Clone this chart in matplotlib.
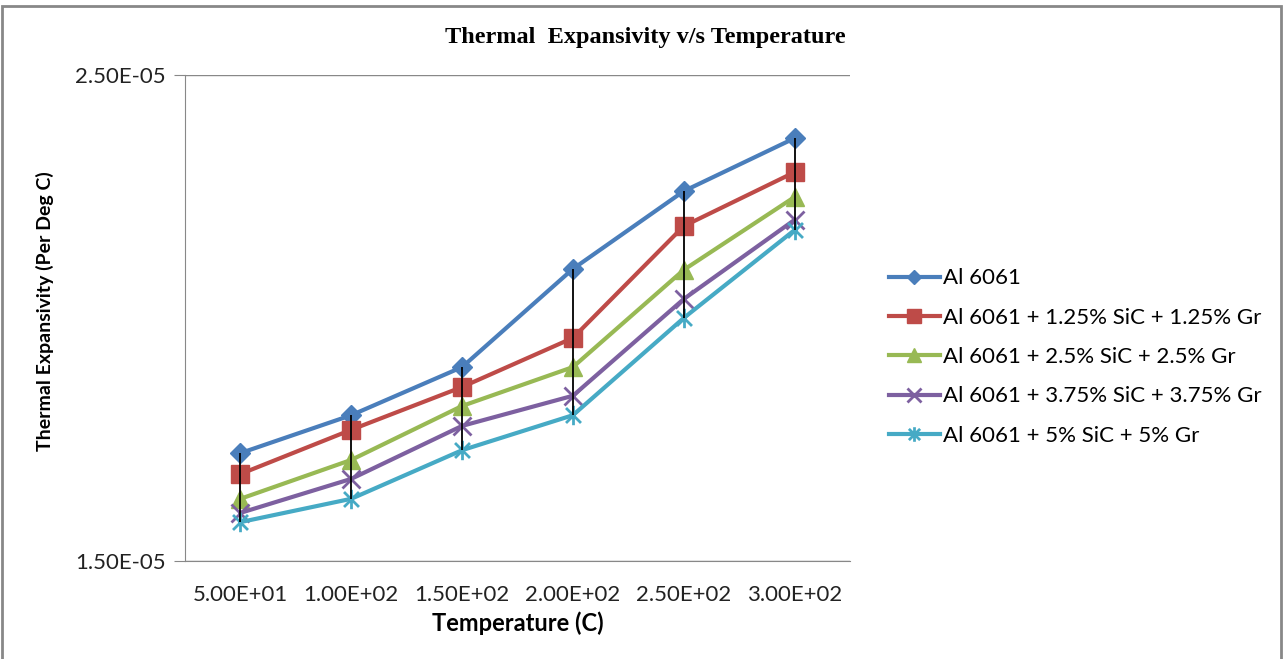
import numpy as np
import matplotlib
matplotlib.use("Agg")
import matplotlib.pyplot as plt
from matplotlib.path import Path
from matplotlib.patches import Rectangle

# data
temps = ["5.00E+01", "1.00E+02", "1.50E+02", "2.00E+02", "2.50E+02", "3.00E+02"]
al6061 = [1.722e-5, 1.800e-5, 1.899e-5, 2.101e-5, 2.261e-5, 2.370e-5]
mix_125 = [1.679e-5, 1.770e-5, 1.858e-5, 1.959e-5, 2.189e-5, 2.300e-5]
mix_250 = [1.628e-5, 1.708e-5, 1.819e-5, 1.899e-5, 2.099e-5, 2.249e-5]
mix_375 = [1.599e-5, 1.669e-5, 1.778e-5, 1.840e-5, 2.039e-5, 2.202e-5]
mix_500 = [1.580e-5, 1.628e-5, 1.728e-5, 1.800e-5, 2.000e-5, 2.181e-5]
labels = ["Al 6061",
          "Al 6061 + 1.25% SiC + 1.25% Gr",
          "Al 6061 + 2.5% SiC + 2.5% Gr",
          "Al 6061 + 3.75% SiC + 3.75% Gr",
          "Al 6061 + 5% SiC + 5% Gr"]
y_ticks = [1.5e-5, 2.5e-5]

# excel-ish star marker (x with a vertical bar)
star = Path([(-1, -1), (1, 1), (-1, 1), (1, -1), (0, -1.3), (0, 1.3)],
            [Path.MOVETO, Path.LINETO, Path.MOVETO, Path.LINETO, Path.MOVETO, Path.LINETO])

colors = ["#4A7EBB", "#BE4B48", "#98B954", "#7D60A0", "#46AAC5"]
markers = ["D", "s", "^", "x", star]
msizes = [10, 13, 13, 13, 14]

plt.rcParams["font.family"] = ["Lato", "DejaVu Sans"]

fig = plt.figure(figsize=(12.84, 6.59), dpi=100)
ax = fig.add_axes([185/1284, 1 - 561/659, 665/1284, 486/659])

series = [al6061, mix_125, mix_250, mix_375, mix_500]
x = np.arange(len(temps))

# high-low lines
arr = np.array(series)
ax.vlines(x, arr.min(axis=0), arr.max(axis=0), color="black", lw=1.3, zorder=3)

for vals, lab, c, m, ms in zip(series, labels, colors, markers, msizes):
    ax.plot(x, vals, color=c, lw=3, marker=m, ms=ms, mew=2 if m in ("x",) or m is star else 1,
            mec=c, mfc=c, label=lab, zorder=2)

ax.set_xlim(-0.5, len(temps) - 0.5)
ax.set_ylim(1.5e-5, 2.5e-5)
ax.set_xticks(x)
ax.set_xticklabels(temps, fontsize=16, color="#222222")
ax.set_yticks(y_ticks)
ax.set_yticklabels(["1.50E-05", "2.50E-05"], fontsize=16, color="#222222")
ax.tick_params(axis="x", length=0, pad=17)
ax.tick_params(axis="y", length=8, color="#888888", pad=6)
ax.yaxis.grid(True, color="#888888", lw=1)
for s in ["top", "right"]:
    ax.spines[s].set_visible(False)
for s in ["left", "bottom"]:
    ax.spines[s].set_color("#888888")

ax.set_xlabel("Temperature (C)", fontsize=17, fontweight="bold", labelpad=5)
ax.set_ylabel("Thermal Expansivity (Per Deg C)", fontsize=14, fontweight="bold")
ax.yaxis.set_label_coords(-131/665, 0.515)

fig.text(645/1284, 1 - 37/659, "Thermal  Expansivity v/s Temperature", ha="center", va="center",
         fontsize=17.5, fontweight="bold", family="Liberation Serif")

ax.legend(loc="center left", bbox_to_anchor=(880/1284, 1 - 357/659), bbox_transform=fig.transFigure,
          frameon=False, fontsize=16, handlelength=2.3, labelspacing=0.87, handletextpad=0.15,
          borderaxespad=0, markerscale=0.75)

fig.patches.append(Rectangle((2/1284, -0.05), 1279/1284, 1.05 - 6/659, transform=fig.transFigure,
                             fill=False, edgecolor="#888888", lw=2))

fig.savefig("out.png", dpi=100)
